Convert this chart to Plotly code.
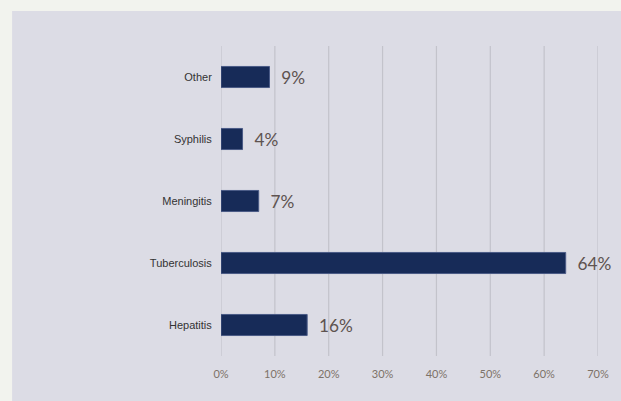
import plotly.graph_objects as go

# Share of cases by disease
diseases = ["Hepatitis", "Tuberculosis", "Meningitis", "Syphilis", "Other"]
shares = [16, 64, 7, 4, 9]
tick_values = [0, 10, 20, 30, 40, 50, 60, 70]
tick_labels = ["0%", "10%", "20%", "30%", "40%", "50%", "60%", "70%"]

W, H = 621, 401
M_L, M_R, M_T, M_B = 221, 21, 46, 45
plot_w = W - M_L - M_R
plot_h = H - M_T - M_B
PAGE = "#f2f3ee"
PANEL = "#dcdce5"

fig = go.Figure()
fig.add_trace(go.Bar(
    y=diseases,
    x=shares,
    orientation="h",
    width=0.34,
    marker=dict(color="#172b58", line=dict(color="#4a5a86", width=1)),
    text=[f"{v}%" for v in shares],
    texttemplate="  %{text}",
    textposition="outside",
    cliponaxis=False,
    textfont=dict(family="Lato, 'Open Sans', sans-serif", size=18, color="#5e5350"),
    hoverinfo="skip",
))

# page border strips along the top and left edges framing the panel
left_edge = (11 - M_L) / plot_w
top_edge = 1 + (M_T - 11) / plot_h
fig.add_shape(type="rect", layer="below", xref="paper", yref="paper",
              x0=-M_L / plot_w - 0.05, x1=left_edge, y0=-0.5, y1=1.5,
              fillcolor=PAGE, line=dict(width=0))
fig.add_shape(type="rect", layer="below", xref="paper", yref="paper",
              x0=-1, x1=1.5, y0=top_edge, y1=1.5,
              fillcolor=PAGE, line=dict(width=0))

# vertical guide lines at every tick, including both ends of the axis
for v in tick_values:
    fig.add_shape(
        type="line", layer="below",
        xref="x", yref="paper",
        x0=v, x1=v, y0=0, y1=1,
        line=dict(color="#c3c3cb", width=1.2),
    )

fig.update_layout(
    width=W, height=H,
    margin=dict(l=M_L, r=M_R, t=M_T, b=M_B),
    paper_bgcolor=PANEL,
    plot_bgcolor="rgba(0,0,0,0)",
    showlegend=False,
    xaxis=dict(
        range=[0, 70],
        tickvals=tick_values,
        ticktext=tick_labels,
        showgrid=False,
        zeroline=False,
        showline=False,
        ticks="outside", ticklen=8, tickcolor="rgba(0,0,0,0)",
        tickfont=dict(family="Lato, 'Open Sans', sans-serif", size=11, color="#7d7268"),
    ),
    yaxis=dict(
        range=[-0.5, 4.5],
        showgrid=False,
        zeroline=False,
        showline=False,
        ticks="outside", ticklen=6, tickcolor="rgba(0,0,0,0)",
        tickfont=dict(family="Liberation Sans, Arial, sans-serif", size=11, color="#333333"),
    ),
)

fig.write_html("out.html")
